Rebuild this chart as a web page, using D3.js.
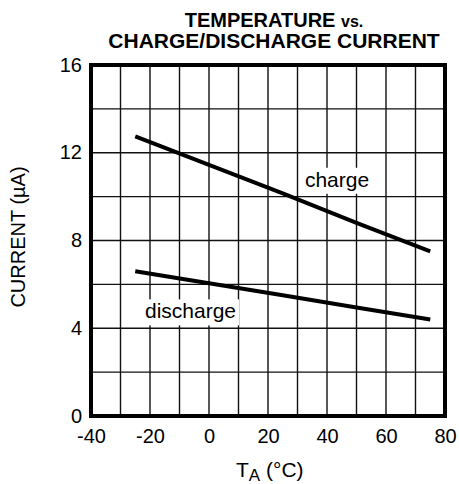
<!DOCTYPE html>
<html>
<head>
<meta charset="utf-8">
<script src="https://cdn.jsdelivr.net/npm/d3@7"></script>
<style>
  body { margin: 0; background: #fff; }
  text { font-family: "Liberation Sans", Arial, sans-serif; fill: #000; }
</style>
</head>
<body>
<main></main>
<script>
// chart values
let temps = [-25, 0, 25, 50, 75]
let chargeCurrent = [12.75, 11.45, 10.15, 8.8, 7.5]
let dischargeCurrent = [6.6, 6.05, 5.5, 4.95, 4.4]
let xTicks = [-40, -20, 0, 20, 40, 60, 80]
let yTicks = [0, 4, 8, 12, 16]
let xGrid = d3.range(-40, 81, 10)
let yGrid = d3.range(0, 17, 2)

let svg = d3.select("main")
    .append("svg")
    .attr("width", 459)
    .attr("height", 484)

let x = d3.scaleLinear().domain([-40, 80]).range([91, 445])
let y = d3.scaleLinear().domain([0, 16]).range([416, 65])

// title
let title = svg.append("text")
    .attr("x", 274)
    .attr("y", 27)
    .attr("text-anchor", "middle")
    .style("font-weight", "bold")
    .style("font-size", "20px")
title.append("tspan").text("TEMPERATURE ")
title.append("tspan").style("font-size", "16px").text("vs.")

svg.append("text")
    .attr("x", 274)
    .attr("y", 48)
    .attr("text-anchor", "middle")
    .style("font-weight", "bold")
    .style("font-size", "21px")
    .text("CHARGE/DISCHARGE CURRENT")

// grid
let grid = svg.append("g")
    .attr("stroke", "#111")
    .attr("stroke-width", 1.4)

grid.selectAll("line.vx")
    .data(xGrid)
    .enter()
    .append("line")
    .attr("class", "vx")
    .attr("x1", function (d) { return x(d); })
    .attr("x2", function (d) { return x(d); })
    .attr("y1", y(0))
    .attr("y2", y(16))

grid.selectAll("line.hy")
    .data(yGrid)
    .enter()
    .append("line")
    .attr("class", "hy")
    .attr("x1", x(-40))
    .attr("x2", x(80))
    .attr("y1", function (d) { return y(d); })
    .attr("y2", function (d) { return y(d); })

// series labels with white boxes over the grid
let labels = [
    { text: "charge", t: 32.5, v: 10.45, w: 76 },
    { text: "discharge", t: -21.7, v: 4.45, w: 98 }
]

let labelGroup = svg.append("g")

labelGroup.selectAll("rect")
    .data(labels)
    .enter()
    .append("rect")
    .attr("x", function (d) { return x(d.t) - 4; })
    .attr("y", function (d) { return y(d.v) - 19; })
    .attr("width", function (d) { return d.w; })
    .attr("height", 26)
    .style("fill", "white")

labelGroup.selectAll("text")
    .data(labels)
    .enter()
    .append("text")
    .attr("x", function (d) { return x(d.t); })
    .attr("y", function (d) { return y(d.v); })
    .style("font-size", "21px")
    .text(function (d) { return d.text; })

// data lines
let line = d3.line()
    .x(function (d) { return x(d[0]); })
    .y(function (d) { return y(d[1]); })

svg.append("path")
    .attr("d", line(d3.zip(temps, chargeCurrent)))
    .attr("fill", "none")
    .attr("stroke", "black")
    .attr("stroke-width", 4)

svg.append("path")
    .attr("d", line(d3.zip(temps, dischargeCurrent)))
    .attr("fill", "none")
    .attr("stroke", "black")
    .attr("stroke-width", 4)

// frame
svg.append("rect")
    .attr("x", x(-40))
    .attr("y", y(16))
    .attr("width", x(80) - x(-40))
    .attr("height", y(0) - y(16))
    .attr("fill", "none")
    .attr("stroke", "black")
    .attr("stroke-width", 4)

// axes
let xAxis = svg.append("g")
    .attr("transform", "translate(0," + y(0) + ")")
    .call(d3.axisBottom(x).tickValues(xTicks).tickSize(0).tickPadding(13)
        .tickFormat(function (d) { return String(d); }))
xAxis.select(".domain").remove()
xAxis.selectAll("text")
    .style("font-size", "20px")
    .attr("fill", "black")
    .attr("dy", "0.71em")

let yAxis = svg.append("g")
    .attr("transform", "translate(" + x(-40) + ",0)")
    .call(d3.axisLeft(y).tickValues(yTicks).tickSize(0).tickPadding(9))
yAxis.select(".domain").remove()
yAxis.selectAll("text")
    .style("font-size", "20px")
    .attr("fill", "black")
    .attr("dy", "0.3em")

// axis titles
let xTitle = svg.append("text")
    .attr("x", 236)
    .attr("y", 477)
    .style("font-size", "21px")
xTitle.append("tspan").text("T")
xTitle.append("tspan").attr("dy", 4).style("font-size", "17px").text("A")
xTitle.append("tspan").attr("dy", -4).text(" (°C)")

svg.append("text")
    .attr("transform", "translate(25,237) rotate(-90)")
    .attr("text-anchor", "middle")
    .style("font-size", "20px")
    .text("CURRENT (µA)")
</script>
</body>
</html>
